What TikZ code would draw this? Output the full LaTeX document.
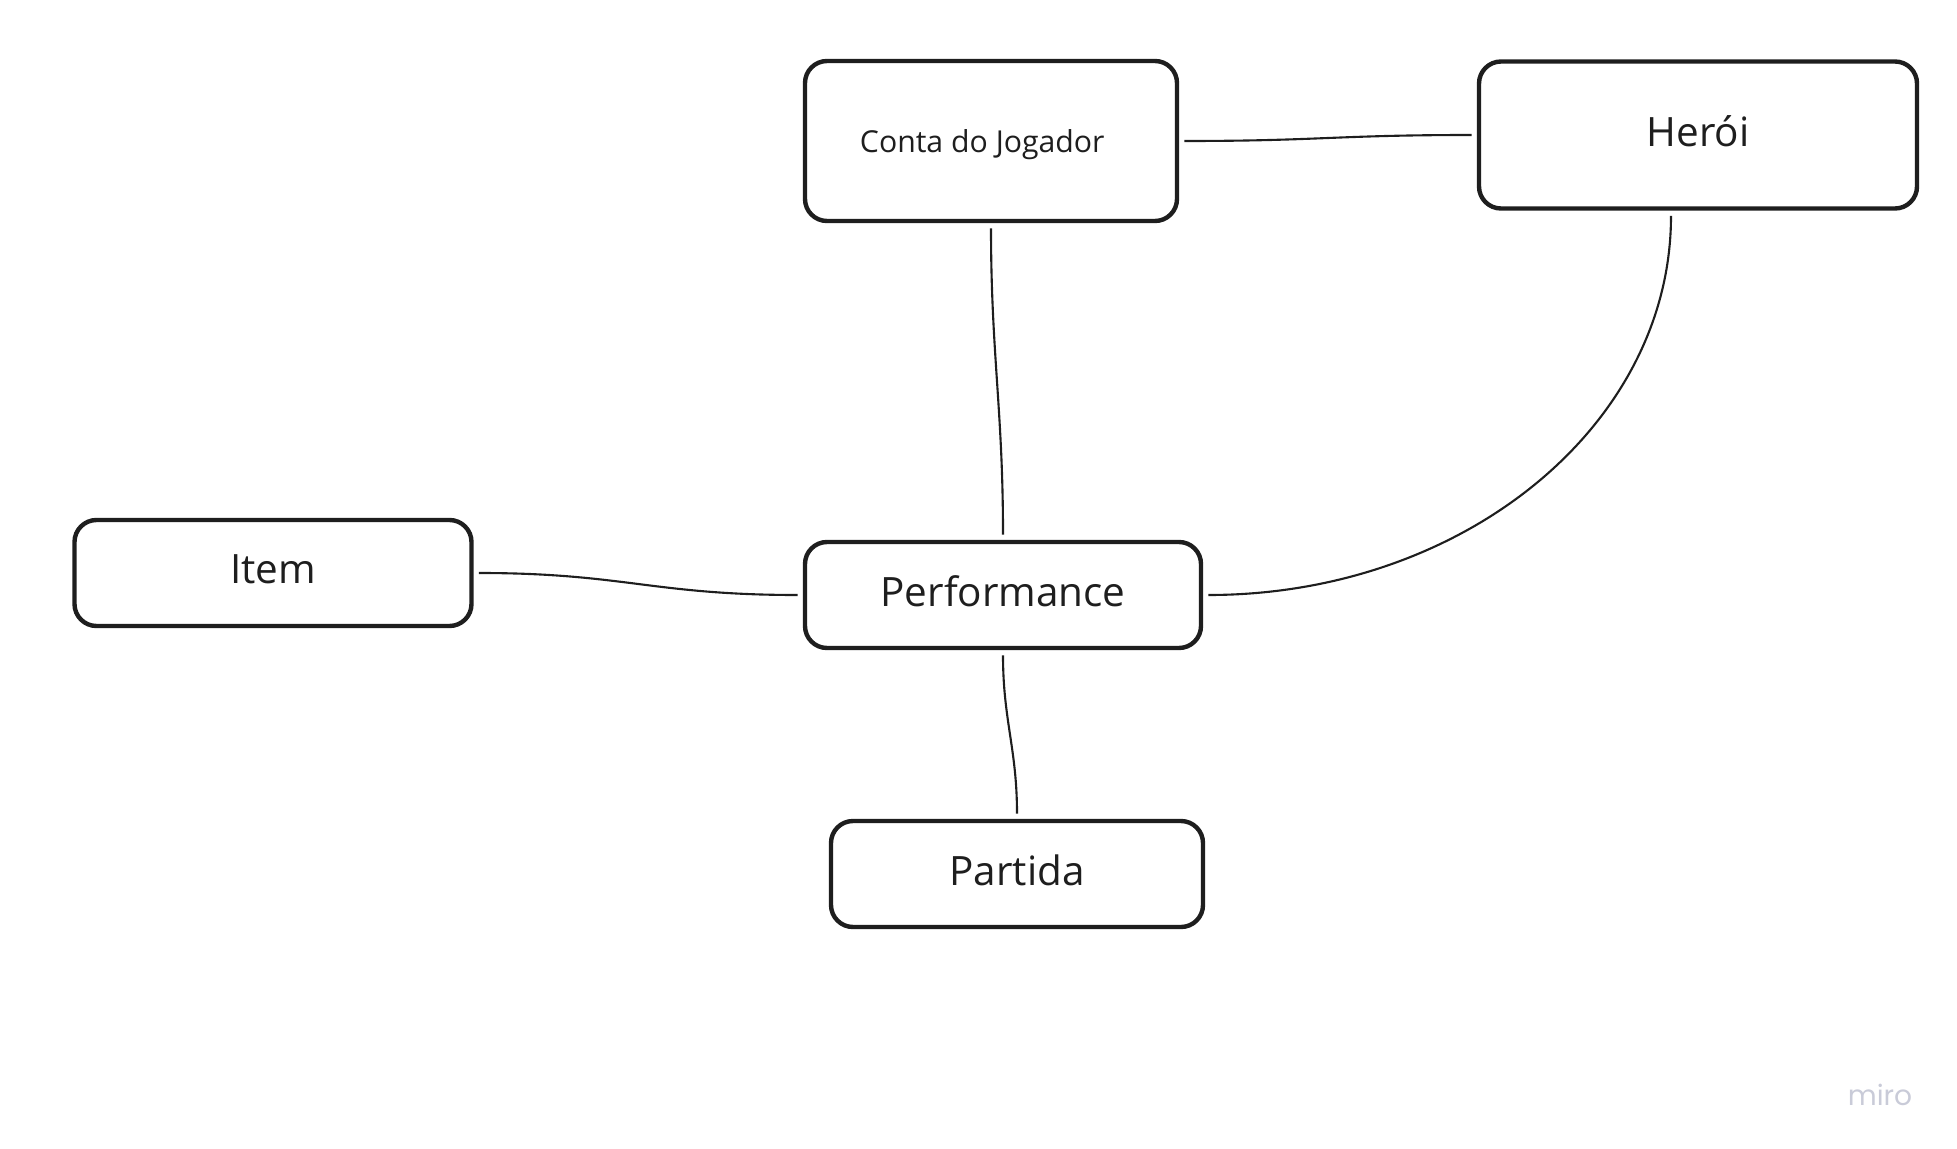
\documentclass[tikz,border=0pt]{standalone}
\usepackage{fontspec}
\setmainfont{Open Sans}
\newfontfamily\mirofont{Poppins}
\definecolor{ink}{HTML}{1E1E1E}
\definecolor{mirogray}{HTML}{C9CBD8}
\newcommand{\upby}[2]{\raisebox{#1}[\height][\depth]{#2}}
\begin{document}
\begin{tikzpicture}[
  entity/.style={draw=ink, line width=1.25pt, rounded corners=0.22cm, fill=white,
    inner sep=0pt, text=ink, font=\fontsize{11.5}{13}\selectfont},
  link/.style={draw=ink, line width=0.6pt, shorten >=1.5pt, shorten <=1.5pt}
]
\useasboundingbox (0,0) rectangle (19.57,-11.49);

\node[entity, minimum width=3.72cm, minimum height=1.60cm,
  font=\fontsize{8.6}{10}\selectfont] (conta) at (9.91,-1.41) {\upby{-1.05pt}{Conta do Jogador}\kern1.75mm};
\node[entity, minimum width=4.38cm, minimum height=1.47cm] (heroi) at (16.98,-1.35) {\upby{1.05pt}{Herói}};
\node[entity, minimum width=3.97cm, minimum height=1.06cm] (item) at (2.73,-5.73) {\upby{1.05pt}{Item}};
\node[entity, minimum width=3.96cm, minimum height=1.06cm] (perf) at (10.03,-5.95) {\upby{1.05pt}{Performance}};
\node[entity, minimum width=3.72cm, minimum height=1.06cm] (partida) at (10.17,-8.74) {\upby{1.05pt}{Partida}};

\draw[link] (conta.east) .. controls +(1.4,0) and +(-1.4,0) .. (heroi.west);
\draw[link] (conta.south) .. controls +(0,-1.3) and +(0,1.3) .. (perf.north);
\draw[link] (item.east) .. controls +(1.5,0) and +(-1.5,0) .. (perf.west);
\draw[link] (perf.south) .. controls +(0,-0.7) and +(0,0.7) .. (partida.north);
\draw[link] ([xshift=-0.27cm]heroi.south) .. controls +(0,-2.15) and +(2.6,0) .. (perf.east);

\node[text=mirogray, font=\mirofont\fontsize{8}{9}\selectfont, inner sep=0pt] (miro) at (18.80,-10.95) {miro};
\end{tikzpicture}
\end{document}
